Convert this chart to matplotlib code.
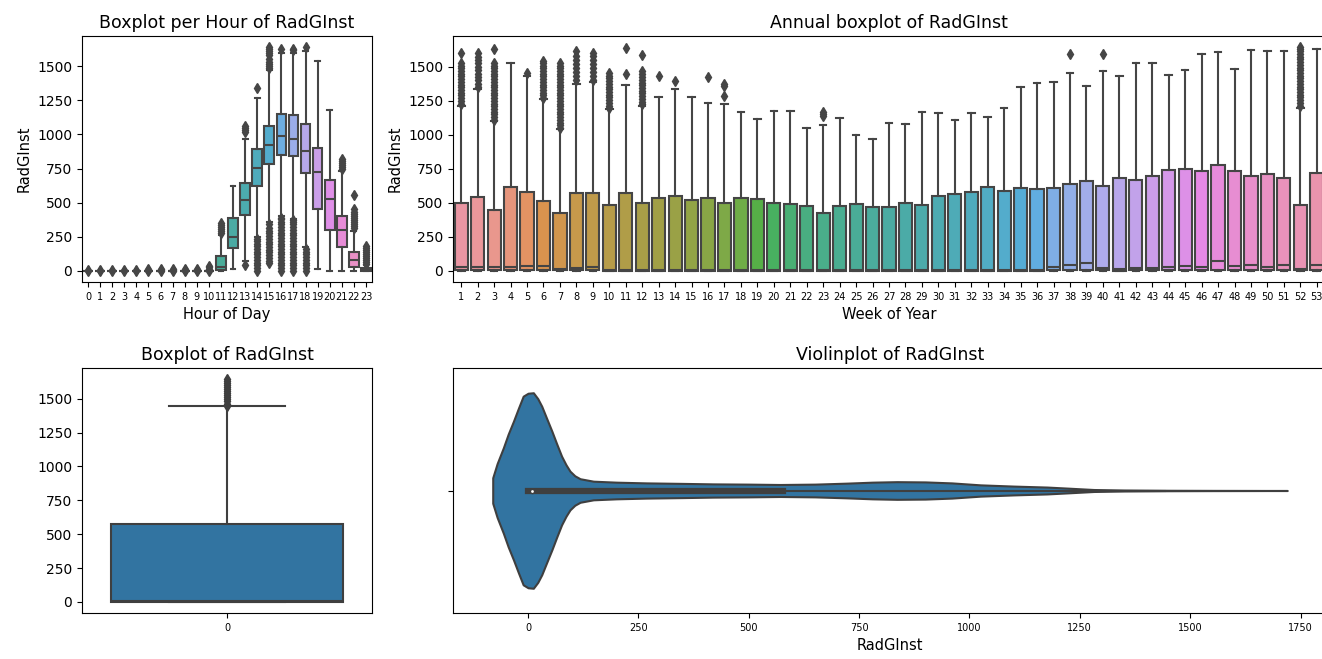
import colorsys
import numpy as np
import matplotlib.pyplot as plt
import matplotlib.colors as mcolors
import seaborn as sns

# ---- hourly boxplot summary (RadGInst) ----
hour_labels = [str(h) for h in range(24)]
hour_q1 = [0, 0, 0, 0, 0, 0, 0, 0, 0, 0, 0, 3, 170, 410, 620, 780, 850, 840, 715, 450, 300, 175, 30, 0]
hour_med = [0, 0, 0, 0, 0, 0, 0, 0, 0, 0, 0, 30, 245, 520, 755, 920, 990, 965, 880, 725, 525, 300, 80, 3]
hour_q3 = [0, 0, 0, 0, 0, 0, 0, 0, 0, 0, 0, 110, 385, 645, 890, 1065, 1150, 1145, 1075, 900, 665, 400, 140, 20]
hour_lo = [0, 0, 0, 0, 0, 0, 0, 0, 0, 0, 0, 0, 10, 70, 250, 360, 400, 380, 175, 10, 0, 0, 0, 0]
hour_hi = [0, 0, 0, 0, 0, 0, 0, 0, 0, 0, 0, 265, 620, 965, 1265, 1475, 1600, 1600, 1615, 1540, 1180, 730, 295, 45]
hour_fliers = [
    [1, 3], [1, 3], [1, 3], [1, 3], [1, 4],
    [1, 6, 12], [1, 8, 15], [1, 8, 14], [1, 7, 12], [1, 8, 16],
    [2, 12, 25, 38],
    [275, 290, 305, 320, 335, 350],
    [],
    [40, 1020, 1035, 1050, 1065],
    [0, 20, 40, 60, 80, 100, 120, 140, 160, 180, 200, 220, 235, 1340],
    [55, 75, 95, 115, 135, 155, 175, 195, 215, 235, 255, 275, 295, 315, 340,
     1490, 1505, 1520, 1535, 1550, 1580, 1595, 1610, 1625, 1640],
    [0, 20, 40, 60, 80, 100, 120, 140, 160, 180, 200, 220, 240, 260, 280, 300,
     320, 340, 360, 380, 390, 1625],
    [0, 20, 40, 60, 80, 100, 120, 140, 160, 180, 200, 220, 240, 260, 280, 300,
     320, 340, 360, 370, 1620, 1630],
    [0, 20, 40, 60, 80, 100, 120, 140, 160, 1640],
    [],
    [],
    [745, 760, 775, 790, 805, 820],
    [315, 330, 345, 360, 375, 390, 405, 420, 435, 450, 555],
    [50, 65, 80, 95, 110, 125, 140, 155, 170, 180],
]

# ---- weekly boxplot summary ----
week_labels = [str(w) for w in range(1, 54)]
week_q1 = [5, 5, 5, 5, 5, 5, 3, 3, 3, 2, 2, 2, 2, 2, 2, 2, 2, 2, 2, 2,
           2, 2, 2, 2, 2, 2, 2, 2, 2, 2, 2, 2, 2, 2, 2, 2, 5, 5, 5, 3,
           2, 3, 3, 5, 5, 5, 5, 5, 5, 5, 5, 3, 5]
week_med = [30, 28, 28, 28, 32, 32, 12, 18, 25, 8, 8, 8, 6, 6, 6, 6, 5, 5, 6, 8,
            5, 5, 5, 5, 5, 5, 5, 5, 5, 5, 5, 5, 5, 5, 5, 5, 30, 40, 55, 20,
            10, 20, 20, 30, 35, 30, 70, 35, 45, 25, 40, 15, 40]
week_q3 = [502, 544, 449, 618, 583, 512, 426, 569, 569, 483, 569, 498, 535, 551, 520, 535, 502, 535, 527, 502,
           495, 478, 424, 478, 490, 473, 470, 502, 485, 549, 568, 578, 613, 588, 610, 600, 608, 642, 662, 625,
           681, 667, 698, 743, 752, 735, 777, 735, 696, 713, 684, 485, 723]
week_lo = [0, 0, 0, 0, 0, 0, 0, 0, 0, 0, 0, 0, 0, 0, 0, 0, 0, 0, 0, 0,
           0, 0, 0, 0, 0, 0, 0, 0, 0, 0, 0, 0, 0, 0, 0, 0, 0, 0, 0, 0,
           0, 0, 0, 0, 0, 0, 0, 0, 0, 0, 0, 0, 0]
week_hi = [1215, 1340, 1100, 1527, 1434, 1262, 1042, 1377, 1390, 1189, 1365, 1213, 1282, 1341, 1282, 1233, 1225, 1169, 1118, 1176,
           1176, 1054, 1069, 1123, 997, 968, 1090, 1083, 1171, 1160, 1110, 1160, 1132, 1196, 1353, 1385, 1392, 1456, 1360, 1470,
           1431, 1527, 1527, 1441, 1478, 1593, 1610, 1488, 1627, 1620, 1615, 1201, 1634]
week_fliers = [
    [1230, 1250, 1270, 1290, 1310, 1330, 1350, 1370, 1390, 1410, 1430, 1450, 1470, 1490, 1510, 1530, 1605],
    [1350, 1375, 1400, 1425, 1450, 1475, 1500, 1525, 1550, 1575, 1600],
    [1110, 1130, 1150, 1170, 1190, 1210, 1230, 1250, 1270, 1290, 1310, 1330, 1350, 1370, 1390, 1410,
     1430, 1450, 1470, 1490, 1510, 1530, 1630],
    [],
    [1458],
    [1270, 1290, 1310, 1330, 1350, 1370, 1390, 1410, 1430, 1450, 1470, 1490, 1510, 1530, 1545],
    [1050, 1070, 1090, 1110, 1130, 1150, 1170, 1190, 1210, 1230, 1250, 1270, 1290, 1310, 1330, 1350,
     1370, 1390, 1410, 1430, 1450, 1470, 1490, 1510, 1530],
    [1400, 1430, 1460, 1490, 1520, 1550, 1580, 1615],
    [1400, 1430, 1460, 1490, 1520, 1550, 1580, 1600],
    [1195, 1215, 1235, 1255, 1275, 1295, 1315, 1335, 1355, 1375, 1395, 1415, 1435, 1455],
    [1446, 1642],
    [1225, 1245, 1265, 1285, 1305, 1325, 1345, 1365, 1385, 1405, 1425, 1445, 1470, 1588],
    [1434],
    [1397],
    [],
    [1422],
    [1287, 1360, 1375],
    [], [], [], [], [],
    [1140, 1155, 1170],
    [], [], [], [], [], [], [], [], [], [], [], [], [], [],
    [1598],
    [],
    [1598],
    [], [], [], [], [], [], [], [], [], [], [],
    [1215, 1235, 1255, 1275, 1295, 1315, 1335, 1355, 1375, 1395, 1415, 1435, 1455, 1475, 1495, 1515,
     1535, 1555, 1575, 1595, 1615, 1635, 1645],
    [],
]

# ---- overall boxplot ----
all_q1, all_med, all_q3 = 0, 8, 578
all_lo, all_hi = 0, 1444
all_fliers = [1450, 1465, 1480, 1495, 1510, 1525, 1540, 1555, 1570, 1585, 1600, 1615, 1630, 1645]

# ---- violin (kde half-width along RadGInst) ----
violin_x = [-80, -70, -56, -45, -33, -22, -11, 0, 12, 22, 31, 42, 54, 65, 76, 86, 95, 106, 118, 148,
            200, 269, 350, 420, 500, 571, 650, 722, 780, 836, 900, 960, 1025, 1100, 1176, 1230, 1282,
            1350, 1440, 1550, 1640, 1720]
violin_h = [0.052, 0.11, 0.174, 0.23, 0.283, 0.335, 0.385, 0.397, 0.399, 0.375, 0.344, 0.295, 0.242,
            0.19, 0.140, 0.105, 0.079, 0.06, 0.048, 0.038, 0.034, 0.031, 0.029, 0.027, 0.026, 0.0245,
            0.026, 0.030, 0.034, 0.036, 0.035, 0.031, 0.023, 0.018, 0.014, 0.009, 0.004, 0.002, 0.001,
            0.0005, 0.0003, 0.0]


def line_gray(colors):
    lum = min(colorsys.rgb_to_hls(*c)[1] for c in colors) * .6
    return mcolors.rgb2hex((lum, lum, lum))


def draw_boxes(ax, q1, med, q3, lo, hi, fliers, colors):
    gray = line_gray(colors)
    stats = [dict(q1=a, med=m, q3=b, whislo=l, whishi=h, fliers=f)
             for a, m, b, l, h, f in zip(q1, med, q3, lo, hi, fliers)]
    art = ax.bxp(stats, positions=list(range(len(stats))), widths=0.8, patch_artist=True,
                 boxprops=dict(edgecolor=gray, linewidth=1.5),
                 whiskerprops=dict(color=gray, linewidth=1.5),
                 capprops=dict(color=gray, linewidth=1.5),
                 medianprops=dict(color=gray, linewidth=1.5),
                 flierprops=dict(marker='d', markersize=5, markerfacecolor=gray,
                                 markeredgecolor=gray, linestyle='none'),
                 manage_ticks=False)
    for patch, c in zip(art['boxes'], colors):
        patch.set_facecolor(c)
    ax.set_xlim(-0.5, len(stats) - 0.5)
    return gray


W, H = 1322, 659
fig = plt.figure(figsize=(W / 100, H / 100), dpi=100)
ax_hour = fig.add_axes([82 / W, 1 - 282 / H, 290 / W, 246 / H])
ax_week = fig.add_axes([453 / W, 1 - 282 / H, 872 / W, 246 / H])
ax_all = fig.add_axes([82 / W, 1 - 613 / H, 290 / W, 245 / H])
ax_vio = fig.add_axes([453 / W, 1 - 613 / H, 874 / W, 245 / H])

# per hour
hour_colors = sns.color_palette(sns.husl_palette(24, l=.7), desat=.75)
draw_boxes(ax_hour, hour_q1, hour_med, hour_q3, hour_lo, hour_hi, hour_fliers, hour_colors)
ax_hour.set_xticks(range(24))
ax_hour.set_xticklabels(hour_labels, fontsize=7)
ax_hour.set_title('Boxplot per Hour of RadGInst', fontsize=12.5)
ax_hour.set_xlabel('Hour of Day', fontsize=10.5)
ax_hour.set_ylabel('RadGInst', fontsize=10.5)

# per week
week_colors = sns.color_palette(sns.husl_palette(53, l=.7), desat=.75)
draw_boxes(ax_week, week_q1, week_med, week_q3, week_lo, week_hi, week_fliers, week_colors)
ax_week.set_xticks(range(53))
ax_week.set_xticklabels(week_labels, fontsize=7)
ax_week.set_title('Annual boxplot of RadGInst', fontsize=12.5)
ax_week.set_xlabel('Week of Year', fontsize=10.5)
ax_week.set_ylabel('RadGInst', fontsize=10.5)

# whole series
blue = sns.color_palette([plt.cm.tab10(0)], desat=.75)
gray = draw_boxes(ax_all, [all_q1], [all_med], [all_q3], [all_lo], [all_hi], [all_fliers], blue)
ax_all.set_xticks([0])
ax_all.set_xticklabels(['0'], fontsize=7)
ax_all.set_title('Boxplot of RadGInst', fontsize=12.5)

# violin with inner box
vh = np.array(violin_h)
ax_vio.fill_between(violin_x, -vh, vh, facecolor=blue[0], edgecolor=gray, linewidth=1.5)
ax_vio.plot([all_lo, all_hi], [0, 0], color=gray, linewidth=1.5)
ax_vio.plot([all_q1, all_q3], [0, 0], color=gray, linewidth=4.5)
ax_vio.scatter([all_med], [0], s=9, color='white', edgecolor=gray, zorder=3)
ax_vio.set_ylim(0.5, -0.5)
ax_vio.set_yticks([0])
ax_vio.set_yticklabels([''])
ax_vio.tick_params(axis='x', labelsize=7)
ax_vio.set_title('Violinplot of RadGInst', fontsize=12.5)
ax_vio.set_xlabel('RadGInst', fontsize=10.5)

fig.savefig('out.png', dpi=100)
